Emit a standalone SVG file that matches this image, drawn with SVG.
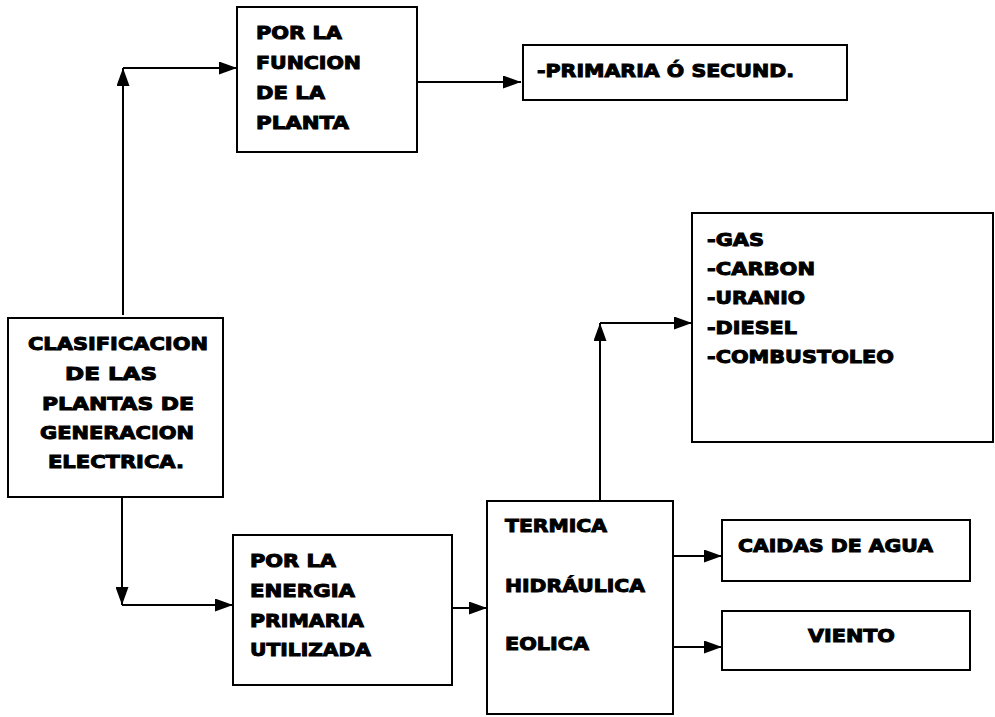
<svg xmlns="http://www.w3.org/2000/svg" width="995" height="717" viewBox="0 0 995 717">
<style>
.box{fill:#fff;stroke:#000;stroke-width:2}
.t{font-family:"DejaVu Sans","Liberation Sans",Arial,sans-serif;font-weight:bold;font-size:18px;fill:#000;stroke:#000;stroke-width:1}
.c{fill:none;stroke:#000;stroke-width:2}
</style>
<defs>
<marker id="ah" viewBox="0 0 18 13" markerUnits="userSpaceOnUse" markerWidth="18" markerHeight="13" refX="18" refY="6.5" orient="auto">
<path d="M0,0 L18,6.5 L0,13 z" fill="#000"/>
</marker>
</defs>
<rect width="995" height="717" fill="#fff"/>
<g id="connectors">
<path class="c" d="M123,315 L123,68" marker-end="url(#ah)"/>
<path class="c" d="M123,68 L237,68" marker-end="url(#ah)"/>
<path class="c" d="M417,82 L521,82" marker-end="url(#ah)"/>
<path class="c" d="M122,497 L122,605" marker-end="url(#ah)"/>
<path class="c" d="M122,605 L233,605" marker-end="url(#ah)"/>
<path class="c" d="M452,608 L487,608" marker-end="url(#ah)"/>
<path class="c" d="M600,501 L600,323" marker-end="url(#ah)"/>
<path class="c" d="M600,323 L692,323" marker-end="url(#ah)"/>
<path class="c" d="M673,556 L722,556" marker-end="url(#ah)"/>
<path class="c" d="M673,647 L722,647" marker-end="url(#ah)"/>
</g>
<g id="funcion">
<rect class="box" x="237" y="7" width="180" height="145"/>
<text class="t" x="256" y="39" textLength="86" lengthAdjust="spacingAndGlyphs">POR LA</text>
<text class="t" x="256" y="69" textLength="105" lengthAdjust="spacingAndGlyphs">FUNCION</text>
<text class="t" x="256" y="99" textLength="69" lengthAdjust="spacingAndGlyphs">DE LA</text>
<text class="t" x="256" y="129" textLength="93" lengthAdjust="spacingAndGlyphs">PLANTA</text>
</g>
<g id="primaria">
<rect class="box" x="523" y="45" width="324" height="55"/>
<text class="t" x="537" y="77" textLength="257" lengthAdjust="spacingAndGlyphs">-PRIMARIA Ó SECUND.</text>
</g>
<g id="clasificacion">
<rect class="box" x="8" y="318" width="215" height="179"/>
<text class="t" x="28" y="350" textLength="180" lengthAdjust="spacingAndGlyphs">CLASIFICACION</text>
<text class="t" x="65" y="380" textLength="92" lengthAdjust="spacingAndGlyphs">DE LAS</text>
<text class="t" x="42" y="410" textLength="152" lengthAdjust="spacingAndGlyphs">PLANTAS  DE</text>
<text class="t" x="40" y="439" textLength="154" lengthAdjust="spacingAndGlyphs">GENERACION</text>
<text class="t" x="48" y="468" textLength="136" lengthAdjust="spacingAndGlyphs">ELECTRICA.</text>
</g>
<g id="energia">
<rect class="box" x="233" y="535" width="219" height="150"/>
<text class="t" x="250" y="567" textLength="86" lengthAdjust="spacingAndGlyphs">POR LA</text>
<text class="t" x="250" y="597" textLength="105" lengthAdjust="spacingAndGlyphs">ENERGIA</text>
<text class="t" x="250" y="627" textLength="114" lengthAdjust="spacingAndGlyphs">PRIMARIA</text>
<text class="t" x="250" y="656" textLength="121" lengthAdjust="spacingAndGlyphs">UTILIZADA</text>
</g>
<g id="tipos">
<rect class="box" x="487" y="501" width="186" height="213"/>
<text class="t" x="505" y="532" textLength="102" lengthAdjust="spacingAndGlyphs">TERMICA</text>
<text class="t" x="505" y="592" textLength="140" lengthAdjust="spacingAndGlyphs">HIDRÁULICA</text>
<text class="t" x="505" y="650" textLength="84" lengthAdjust="spacingAndGlyphs">EOLICA</text>
</g>
<g id="combustibles">
<rect class="box" x="692" y="213" width="301" height="229"/>
<text class="t" x="707" y="246" textLength="57" lengthAdjust="spacingAndGlyphs">-GAS</text>
<text class="t" x="707" y="275" textLength="108" lengthAdjust="spacingAndGlyphs">-CARBON</text>
<text class="t" x="707" y="304" textLength="98" lengthAdjust="spacingAndGlyphs">-URANIO</text>
<text class="t" x="707" y="334" textLength="90" lengthAdjust="spacingAndGlyphs">-DIESEL</text>
<text class="t" x="707" y="363" textLength="187" lengthAdjust="spacingAndGlyphs">-COMBUSTOLEO</text>
</g>
<g id="caidas">
<rect class="box" x="722" y="520" width="248" height="61"/>
<text class="t" x="738" y="552" textLength="195" lengthAdjust="spacingAndGlyphs">CAIDAS DE AGUA</text>
</g>
<g id="viento">
<rect class="box" x="722" y="611" width="248" height="59"/>
<text class="t" x="808" y="642" textLength="87" lengthAdjust="spacingAndGlyphs">VIENTO</text>
</g>
</svg>
